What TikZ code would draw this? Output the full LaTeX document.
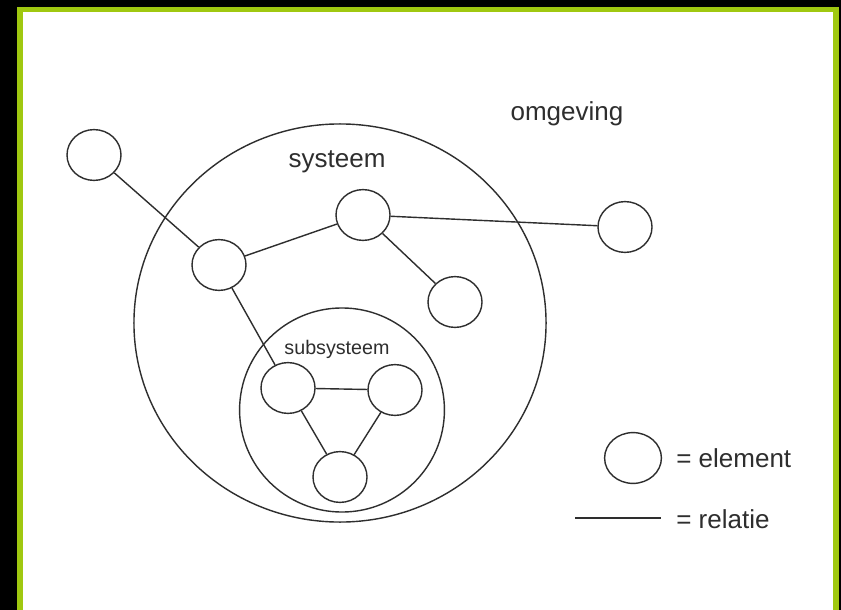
\documentclass[tikz,border=0pt]{standalone}
\usepackage{fontspec}
\setmainfont{Liberation Sans}
\usetikzlibrary{shapes.geometric}
\definecolor{FrameGreen}{HTML}{A0C810}
\definecolor{LineGray}{HTML}{2E2E2E}

\begin{document}
\begin{tikzpicture}[
    x=0.025cm, y=-0.025cm,
    elem/.style={draw=LineGray,ellipse,line width=1pt,minimum width=1.35cm,minimum height=1.27cm,inner sep=0pt},
    sysring/.style={draw=LineGray,ellipse,line width=1pt,inner sep=0pt},
    rel/.style={draw=LineGray,line width=1pt},
    lbl/.style={text=LineGray,font=\fontsize{18.5}{22}\selectfont,inner sep=0pt}
  ]
  \useasboundingbox (0,0) rectangle (841,610);
  % frame
  \fill[white] (0,0) rectangle (841,610);
  \fill[black] (0,0) rectangle (17,610);
  \fill[black] (0,0) rectangle (841,7);
  \fill[black] (839,0) rectangle (841,610);
  \fill[FrameGreen] (17,7) rectangle (23,610);
  \fill[FrameGreen] (17,7) rectangle (839,12);
  \fill[FrameGreen] (833,7) rectangle (839,610);

  % system and subsystem
  \node[sysring,minimum width=10.3cm,minimum height=9.95cm] (systeem) at (340,323) {};
  \node[sysring,minimum width=5.12cm,minimum height=5.1cm] (subsysteem) at (342,410) {};
  \node[lbl,anchor=base] (omgevingLbl) at (567,121) {omgeving};
  \node[lbl,anchor=base] (systeemLbl) at (337,168) {systeem};
  \node[lbl,anchor=base,font=\fontsize{14}{17}\selectfont] (subsysteemLbl) at (337,354) {subsysteem};

  % elements
  \node[elem] (outA) at (94,155) {};
  \node[elem] (outB) at (625,227) {};
  \node[elem] (inA) at (219,265) {};
  \node[elem] (inB) at (363,215) {};
  \node[elem] (inC) at (455,302) {};
  \node[elem] (subA) at (288,388) {};
  \node[elem] (subB) at (395,390) {};
  \node[elem] (subC) at (340,477) {};

  % relations
  \draw[rel] (outA) -- (inA);
  \draw[rel] (inA) -- (inB);
  \draw[rel] (inB) -- (outB);
  \draw[rel] (inB) -- (inC);
  \draw[rel] (inA) -- (subA);
  \draw[rel] (subA) -- (subB);
  \draw[rel] (subA) -- (subC);
  \draw[rel] (subB) -- (subC);

  % legend
  \node[elem,minimum width=1.42cm,minimum height=1.27cm] (keyElem) at (633,458) {};
  \node[lbl,anchor=base west] (keyElemLbl) at (676,467) {= element};
  \coordinate (keyRelL) at (575,518);
  \coordinate (keyRelR) at (661,518);
  \draw[rel] (keyRelL) -- (keyRelR);
  \node[lbl,anchor=base west] (keyRelLbl) at (676,528) {= relatie};
\end{tikzpicture}
\end{document}
